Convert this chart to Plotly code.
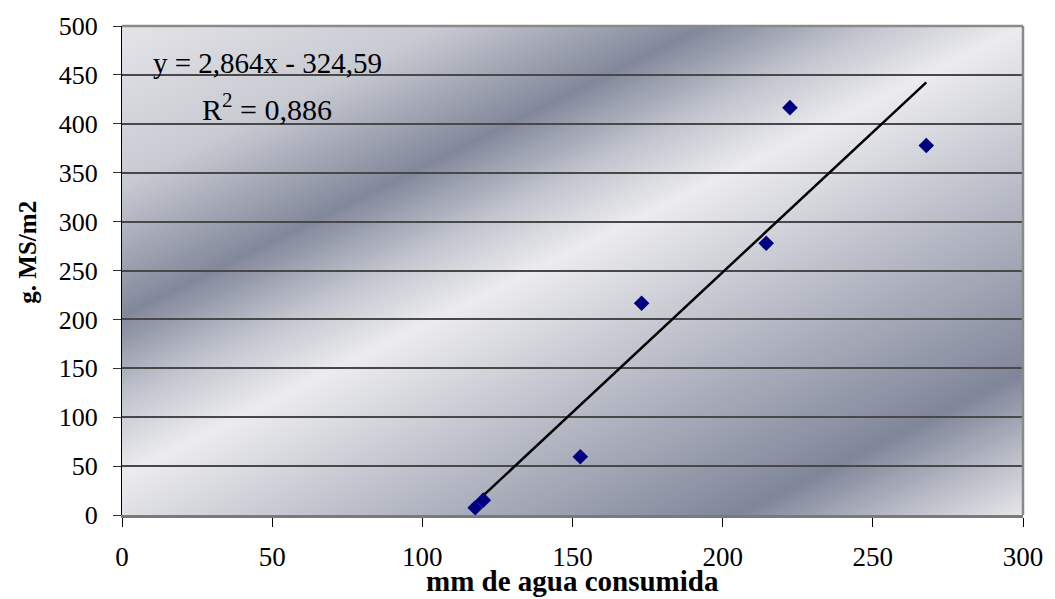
import base64
import plotly.graph_objects as go

# ---- data ----
water_mm = [117.6, 120.3, 152.6, 173.0, 214.5, 222.4, 267.8]
dry_matter = [7.4, 15.2, 59.6, 216.5, 277.8, 416.5, 377.8]
slope = 2.864
intercept = -324.59
r2 = 0.886
x_ticks = [0, 50, 100, 150, 200, 250, 300]
y_ticks = [0, 50, 100, 150, 200, 250, 300, 350, 400, 450, 500]

x_title = "mm de agua consumida"
y_title = "g. MS/m2"
eq_line1 = "y = 2,864x - 324,59"
eq_line2 = "R<sup>2</sup> = 0,886"

SERIF = "Liberation Serif, Times New Roman, serif"

# trend line over data range
tx = [min(water_mm), max(water_mm)]
ty = [slope * v + intercept for v in tx]

# ---- diagonal metallic gradient for the plot area ----
stops = [
    (0.00, "#e4e4e8"),
    (0.17, "#c8cad2"),
    (0.31, "#82889b"),
    (0.40, "#c2c5ce"),
    (0.48, "#ececee"),
    (0.63, "#bec1cb"),
    (0.85, "#80869a"),
    (0.93, "#b8bbc6"),
    (1.00, "#e6e6e8"),
]
stop_xml = "".join(f'<stop offset="{o}" stop-color="{c}"/>' for o, c in stops)
svg = (
    '<svg xmlns="http://www.w3.org/2000/svg" width="905" height="495" '
    'viewBox="0 0 905 495" preserveAspectRatio="none">'
    '<defs><linearGradient id="g" gradientUnits="userSpaceOnUse" x1="0" y1="0" x2="379" y2="757">'
    + stop_xml +
    '</linearGradient></defs><rect x="0" y="0" width="905" height="495" fill="url(#g)"/></svg>'
)
src = "data:image/svg+xml;base64," + base64.b64encode(svg.encode()).decode()

fig = go.Figure()
fig.add_trace(go.Scatter(
    x=tx, y=ty, mode="lines",
    line=dict(color="black", width=2.5),
    hoverinfo="skip", showlegend=False,
))
fig.add_trace(go.Scatter(
    x=water_mm, y=dry_matter, mode="markers",
    marker=dict(symbol="diamond", size=12, color="#000080",
                line=dict(width=0)),
    showlegend=False,
))

fig.update_layout(
    width=1055, height=599,
    margin=dict(l=122, r=28, t=20, b=84),
    paper_bgcolor="white",
    plot_bgcolor="rgba(0,0,0,0)",
    font=dict(family=SERIF, color="black"),
    images=[dict(source=src, xref="paper", yref="paper", x=0, y=1,
                 sizex=1, sizey=1, xanchor="left", yanchor="top",
                 sizing="stretch", layer="below")],
    xaxis=dict(
        range=[0, 300], tickvals=x_ticks, ticks="outside", ticklen=9,
        tickcolor="black", tickwidth=1, showgrid=False, zeroline=False,
        showline=True, linecolor="#7a7a7a", linewidth=2.5,
        tickfont=dict(family=SERIF, size=27), ticklabelstandoff=7,
    ),
    yaxis=dict(
        range=[0, 500], tickvals=y_ticks, ticks="outside", ticklen=8,
        tickcolor="#333", tickwidth=1, showgrid=True, gridcolor="#484848",
        gridwidth=1.6, zeroline=False, showline=True, linecolor="black",
        linewidth=1, tickfont=dict(family=SERIF, size=26), ticklabelstandoff=10,
    ),
    shapes=[
        dict(type="line", xref="paper", yref="paper", x0=0, x1=1, y0=1, y1=1,
             line=dict(color="#8a8a8a", width=2.5)),
        dict(type="line", xref="paper", yref="paper", x0=1, x1=1, y0=0, y1=1,
             line=dict(color="#8a8a8a", width=2.5)),
    ],
    annotations=[
        dict(text=eq_line1, x=48.4, y=462, xref="x", yref="y", showarrow=False,
             xanchor="center", yanchor="middle", font=dict(family=SERIF, size=29)),
        dict(text=eq_line2, x=48.4, y=417, xref="x", yref="y", showarrow=False,
             xanchor="center", yanchor="middle", font=dict(family=SERIF, size=30)),
        dict(text="<b>" + x_title + "</b>", x=0.5, y=-(582 - 515) / 495,
             xref="paper", yref="paper",
             showarrow=False, xanchor="center", yanchor="middle",
             font=dict(family=SERIF, size=29)),
        dict(text="<b>" + y_title + "</b>", x=(27 - 122) / 905, y=(515 - 249) / 495,
             xref="paper", yref="paper", showarrow=False, textangle=-90,
             xanchor="center", yanchor="middle",
             font=dict(family=SERIF, size=25)),
    ],
)

fig.write_html("out.html")
